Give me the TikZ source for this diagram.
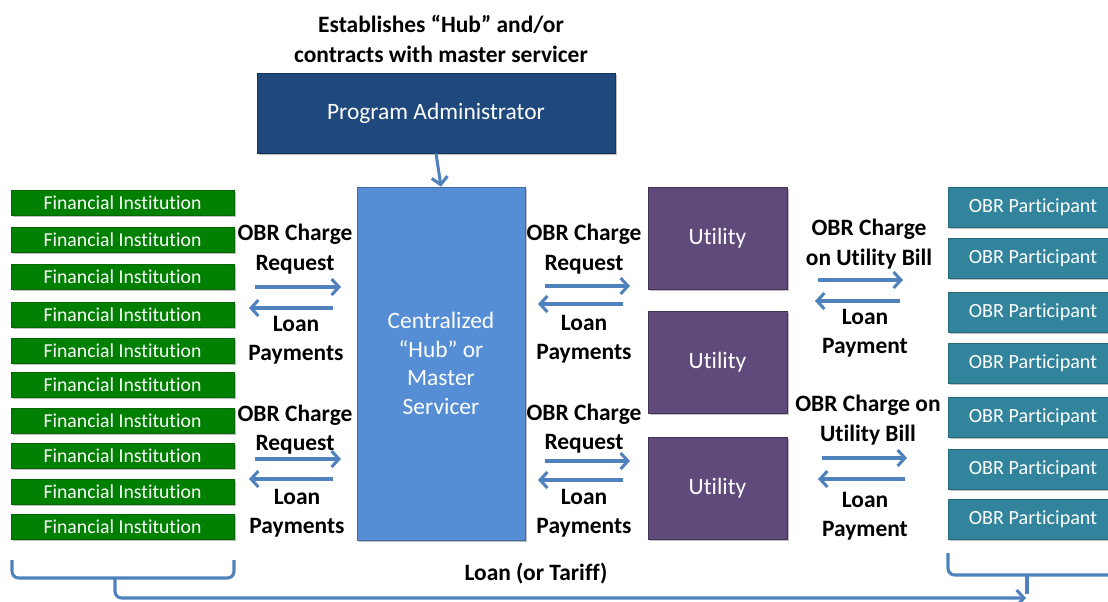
\documentclass[tikz,border=0pt]{standalone}
\usepackage{fontspec}
\setmainfont{Carlito}[Ligatures=NoCommon]
\usetikzlibrary{arrows.meta,shadows}
\definecolor{padark}{HTML}{1F497D}
\definecolor{hubblue}{HTML}{558ED5}
\definecolor{utilpurple}{HTML}{604A7B}
\definecolor{figreen}{HTML}{008000}
\definecolor{obrteal}{HTML}{31849B}
\definecolor{arrowblue}{HTML}{4F81BD}
\begin{document}
\begin{tikzpicture}[x=0.75pt,y={(0,-0.75pt)},
  box/.style={rectangle, inner sep=0pt, text=white, align=center, line width=0.6pt,
    drop shadow={shadow xshift=1.2pt, shadow yshift=-1.2pt, fill=black, opacity=0.25}},
  bigtext/.style={font=\fontsize{17.6}{21.4}\selectfont},
  fibox/.style={box, fill=figreen, draw=figreen!80!black, minimum width=167.25pt, minimum height=18.75pt,
    font=\fontsize{14.8}{16}\selectfont},
  obrbox/.style={box, fill=obrteal, draw=obrteal!80!black, minimum width=127.5pt, minimum height=30pt,
    font=\fontsize{15.1}{16}\selectfont},
  utilbox/.style={box, bigtext, fill=utilpurple, draw=utilpurple!70!black, minimum width=104.25pt, minimum height=76.5pt},
  lbl/.style={align=center, inner sep=0pt, font=\bfseries\fontsize{17.6}{22}\selectfont},
  flow/.style={draw=arrowblue, line width=2.3pt, -{Straight Barb[length=5.5pt,width=12pt,line width=2.3pt]}},
  bracket/.style={draw=arrowblue, line width=2.3pt, rounded corners=5pt}
]
\useasboundingbox (0,0) rectangle (1108,601);
\begin{scope}
\clip (0,0) rectangle (1108,601);

% title
\node[lbl] (title) at (441,39) {Establishes “Hub” and/or\\contracts with master servicer};

% program administrator
\node[box, bigtext, fill=padark, draw=padark!70!black, minimum width=268.5pt, minimum height=60pt] (pa) at (436,113) {Program Administrator};

% hub
\node[box, bigtext, fill=hubblue, draw=hubblue!75!black, minimum width=126pt, minimum height=264.75pt] (hub) at (441,363.5) {Centralized\\“Hub” or\\Master\\Servicer};

\draw[flow] (pa.south) -- (hub.north);

% utilities
\node[utilbox] (u1) at (717.5,238) {Utility};
\node[utilbox] (u2) at (717.5,362) {Utility};
\node[utilbox] (u3) at (717.5,488.5) {Utility};

% financial institutions
\foreach \y [count=\i] in {203,240,277,314.5,350.5,385,420.5,455.5,491.5,526.5}
  \node[fibox] (fi\i) at (122.5,\y) {Financial Institution};

% OBR participants
\foreach \y [count=\i] in {207,258,312,363,417,469,519}
  \node[obrbox] (obr\i) at (1033,\y) {OBR Participant};

% labels
\node[lbl] (l1t) at (295,249) {OBR Charge\\Request};
\node[lbl] (l1b) at (296,340) {Loan\\Payments};
\node[lbl] (l2t) at (295,429.5) {OBR Charge\\Request};
\node[lbl] (l2b) at (297,513.5) {Loan\\Payments};
\node[lbl] (m1t) at (584,249) {OBR Charge\\Request};
\node[lbl] (m1b) at (584,339) {Loan\\Payments};
\node[lbl] (m2t) at (584,428.5) {OBR Charge\\Request};
\node[lbl] (m2b) at (584,513.5) {Loan\\Payments};
\node[lbl] (r1t) at (869,244) {OBR Charge\\on Utility Bill};
\node[lbl] (r1b) at (865,333.5) {Loan\\Payment};
\node[lbl] (r2t) at (868,420) {OBR Charge on\\Utility Bill};
\node[lbl] (r2b) at (865,516) {Loan\\Payment};
\node[lbl] (tariff) at (536,574) {Loan (or Tariff)};

% arrow end points
\coordinate (a1s) at (255,287); \coordinate (a1e) at (341,287);
\coordinate (b1s) at (333,308); \coordinate (b1e) at (249,308);
\coordinate (a2s) at (255,459); \coordinate (a2e) at (341,459);
\coordinate (b2s) at (333,479); \coordinate (b2e) at (249,479);
\coordinate (a3s) at (545,286); \coordinate (a3e) at (630,286);
\coordinate (b3s) at (623,304); \coordinate (b3e) at (538,304);
\coordinate (a4s) at (545,461); \coordinate (a4e) at (630,461);
\coordinate (b4s) at (623,480); \coordinate (b4e) at (538,480);
\coordinate (a5s) at (818,280); \coordinate (a5e) at (903,280);
\coordinate (b5s) at (900,301); \coordinate (b5e) at (815,301);
\coordinate (a6s) at (822,458); \coordinate (a6e) at (907,458);
\coordinate (b6s) at (905,479); \coordinate (b6e) at (818,479);

\foreach \n in {1,...,6} {
  \draw[flow] (a\n s) -- (a\n e);
  \draw[flow] (b\n s) -- (b\n e);
}

% brackets
\coordinate (lbA) at (12,560); \coordinate (lbB) at (12,578);
\coordinate (lbC) at (234,578); \coordinate (lbD) at (234,560);
\coordinate (lbM) at (115,578); \coordinate (lbT) at (115,598);
\draw[bracket] (lbA) -- (lbB) -- (lbC) -- (lbD);
\coordinate (rbA) at (948,553); \coordinate (rbB) at (948,575);
\coordinate (rbC) at (1115,575);
\coordinate (rbM) at (1027,575); \coordinate (rbT) at (1027,594);
\draw[bracket] (rbA) -- (rbB) -- (rbC);
\draw[draw=arrowblue, line width=2.3pt] (rbM) -- (rbT);
\coordinate (endA) at (1026,598);
\draw[bracket, -{Straight Barb[length=5.5pt,width=12pt,line width=2.3pt]}] (lbM) -- (lbT) -- (endA);
\end{scope}
\end{tikzpicture}
\end{document}
